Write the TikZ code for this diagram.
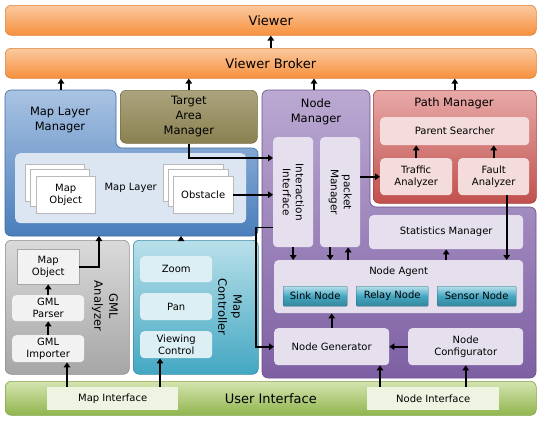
\documentclass[tikz,border=0pt]{standalone}
\usepackage{fontspec}
\setmainfont{DejaVu Sans}
\usetikzlibrary{arrows.meta}

\definecolor{vwTop}{HTML}{FBC9A0}
\definecolor{vwBot}{HTML}{F6903D}
\definecolor{blTop}{HTML}{A9C3E3}
\definecolor{blBot}{HTML}{4A7EBB}
\definecolor{olTop}{HTML}{ABA37C}
\definecolor{olBot}{HTML}{8A8152}
\definecolor{puTop}{HTML}{BBA9D2}
\definecolor{puBot}{HTML}{7D5FA3}
\definecolor{rdTop}{HTML}{E8A9A7}
\definecolor{rdBot}{HTML}{C0504D}
\definecolor{gyTop}{HTML}{DADADA}
\definecolor{gyBot}{HTML}{A6A6A6}
\definecolor{tlTop}{HTML}{B9E0EA}
\definecolor{tlBot}{HTML}{43A7C2}
\definecolor{grTop}{HTML}{D4E4B0}
\definecolor{grBot}{HTML}{90B54D}
\definecolor{blIn}{HTML}{DCE6F2}
\definecolor{puIn}{HTML}{E6E0EE}
\definecolor{rdIn}{HTML}{F3DCDB}
\definecolor{gyIn}{HTML}{F2F2F2}
\definecolor{tlIn}{HTML}{DCEFF4}
\definecolor{grIn}{HTML}{EEF4E1}

\tikzset{
  every node/.style={font=\fontsize{10}{12}\selectfont,align=center},
  sz/.style 2 args={minimum width=#1pt,minimum height=#2pt},
  blk/.style={anchor=north west,rounded corners=4pt,inner sep=1pt},
  panel/.style={rounded corners=6pt,line width=.6pt},
  ttl/.style={font=\fontsize{11.5}{15}\selectfont},
  bar/.style={blk,panel,top color=vwTop,bottom color=vwBot,draw=vwBot!90!black,
    font=\fontsize{13}{15}\selectfont},
  sheet/.style={blk,rounded corners=0pt,fill=white,draw=gray!55},
  btn/.style={blk,rounded corners=1pt,top color=tlTop,bottom color=tlBot!80!black,
    middle color=tlBot,draw=tlBot!60!black,line width=.3pt},
  arr/.style={line width=1.6pt,-{Triangle[length=5pt,width=6.5pt]}}
}

\begin{document}
\begin{tikzpicture}[x=1pt,y=-1pt]
\useasboundingbox (0,0) rectangle (539,423);

\node[bar,sz={531}{30}] (viewer) at (5,5) {Viewer};
\node[bar,sz={531}{30}] (broker) at (5,48) {Viewer Broker};
\node[bar,sz={531}{34},top color=grTop,bottom color=grBot,draw=grBot!90!black] (ui) at (5,381) {User Interface};

% map layer manager
\path[panel,top color=blTop,bottom color=blBot,draw=blBot!85!black]
  (5,90) -- (116,90) -- (116,148) -- (258,148) -- (258,236) -- (5,236) -- cycle;
\node[ttl] (mlm) at (60,120) {Map Layer\\Manager};
\node[blk,ttl,panel,sz={137}{53},top color=olTop,bottom color=olBot,draw=olBot!85!black] (tam) at (120,90) {Target\\Area\\Manager};
\node[blk,sz={231}{70},fill=blIn,rounded corners=5pt] (ml) at (15,153) {Map Layer};
\foreach \d in {0,5} {
  \node[sheet,sz={59}{37}] at (25+\d,164+\d) {};
  \node[sheet,sz={60}{37}] at (163+\d,164+\d) {};
}
\node[sheet,sz={59}{37}] (mobj) at (36,176) {Map\\Object};
\node[sheet,sz={60}{37}] (obst) at (173,176) {Obstacle};

% node manager
\path[panel,top color=puTop,bottom color=puBot,draw=puBot!85!black]
  (262,90) -- (370,90) -- (370,207) -- (536,207) -- (536,378) -- (262,378) -- cycle;
\node[ttl] (nm) at (316,112) {Node\\Manager};
\node[blk,sz={40}{110},fill=puIn] (ii) at (273,137) {};
\node[rotate=-90,font=\fontsize{10.5}{13}\selectfont] at (ii) {Interaction\\Interface};
\node[blk,sz={40}{110},fill=puIn] (pm) at (320,137) {};
\node[rotate=-90,font=\fontsize{10.5}{13}\selectfont] at (pm) {packet\\Manager};
\node[blk,sz={154}{34},fill=puIn] (sm) at (369,215) {Statistics Manager};
\node[blk,sz={249}{53},fill=puIn] (na) at (274,260) {};
\node at ([yshift=-12pt]na.north) {Node Agent};
\node[btn,sz={64}{20}] (sink) at (283,286) {Sink Node};
\node[btn,sz={72}{20}] (relay) at (356,286) {Relay Node};
\node[btn,sz={79}{20}] (sensor) at (437,286) {Sensor Node};
\node[blk,sz={115}{37},fill=puIn] (ng) at (274,328) {Node Generator};
\node[blk,sz={115}{37},fill=puIn] (nc) at (408,328) {Node\\Configurator};

% path manager
\node[blk,panel,sz={163}{113},top color=rdTop,bottom color=rdBot,draw=rdBot!85!black] (pmgr) at (373,90) {};
\node[ttl] at (454,103) {Path Manager};
\node[blk,sz={149}{28},fill=rdIn] (ps) at (380,117) {Parent Searcher};
\node[blk,sz={72}{37},fill=rdIn] (ta) at (380,158) {Traffic\\Analyzer};
\node[blk,sz={71}{37},fill=rdIn] (fa) at (458,158) {Fault\\Analyzer};

% gml analyzer
\node[blk,panel,sz={124}{134},top color=gyTop,bottom color=gyBot,draw=gyBot!85!black] (gml) at (5,240) {};
\node[ttl,rotate=-90] at (105,306) {GML\\Analyzer};
\node[blk,sz={62}{35},fill=gyIn,draw=gray!70,rounded corners=0pt] (gmo) at (17,249) {Map\\Object};
\node[blk,sz={72}{26},fill=gyIn] (gp) at (12,295) {GML\\Parser};
\node[blk,sz={72}{27},fill=gyIn] (gi) at (12,335) {GML\\Importer};

% map controller
\node[blk,panel,sz={125}{134},top color=tlTop,bottom color=tlBot,draw=tlBot!85!black] (mc) at (133,240) {};
\node[ttl,rotate=-90] at (230,307) {Map\\Controller};
\node[blk,sz={72}{26},fill=tlIn] (zoom) at (140,256) {Zoom};
\node[blk,sz={72}{27},fill=tlIn] (pan) at (140,293) {Pan};
\node[blk,sz={72}{27},fill=tlIn] (vc) at (140,331) {Viewing\\Control};

\node[blk,sz={131}{23},fill=grIn,rounded corners=0pt] (mi) at (47,387) {Map Interface};
\node[blk,sz={132}{23},fill=grIn,rounded corners=0pt] (ni) at (367,387) {Node Interface};

\coordinate (mlmtop) at (61,90);
\coordinate (nmtop) at (314,90);
\coordinate (mlmbot) at (99,236);
\coordinate (mlmbot2) at (181,236);

\draw[arr] (broker) -- (viewer);
\draw[arr] (mlmtop) -- (mlmtop |- broker.south);
\draw[arr] (tam) -- (tam |- broker.south);
\draw[arr] (nmtop) -- (nmtop |- broker.south);
\draw[arr] (pmgr) -- (pmgr |- broker.south);
\draw[arr] (tam) |- ([yshift=-21pt]ii.north west);
\draw[arr] (obst) -- (obst -| ii.west);
\draw[arr] ([yshift=20pt]ii.south west) -- ++(-17,0) |- (ng);
\draw[arr] (pm.east |- ta) -- (ta);
\draw[arr] (ta) -- (ta |- ps.south);
\draw[arr] (fa) -- (fa |- ps.south);
\draw[arr] ([xshift=13pt]fa.south) -- ([xshift=13pt]fa.south |- na.north);
\draw[arr] (ii) -- (ii |- na.north);
\draw[arr] ([xshift=-10pt]pm.south) -- ([xshift=-10pt]pm.south |- na.north);
\draw[arr] ([xshift=8pt]pm.south |- na.north) -- ([xshift=8pt]pm.south);
\draw[arr] (na.north -| sm) -- (sm);
\draw[arr] (ng) -- (ng |- na.south);
\draw[arr] (nc) -- (ng);
\draw[arr] ([xshift=13pt]ni.north west) -- ([xshift=13pt]ni.north west |- ng.south);
\draw[arr] (ni.north -| nc) -- (nc);
\draw[arr] ([xshift=20pt]mi.north west) -- ([xshift=20pt]mi.north west |- gi.south);
\draw[arr] ([xshift=113pt]mi.north west) -- ([xshift=113pt]mi.north west |- vc.south);
\draw[arr] (gi) -- (gp);
\draw[arr] (gp) -- (gmo);
\draw[arr] (gmo) -| (mlmbot);
\draw[arr] (mc.north -| mlmbot2) -- (mlmbot2);
\end{tikzpicture}
\end{document}
